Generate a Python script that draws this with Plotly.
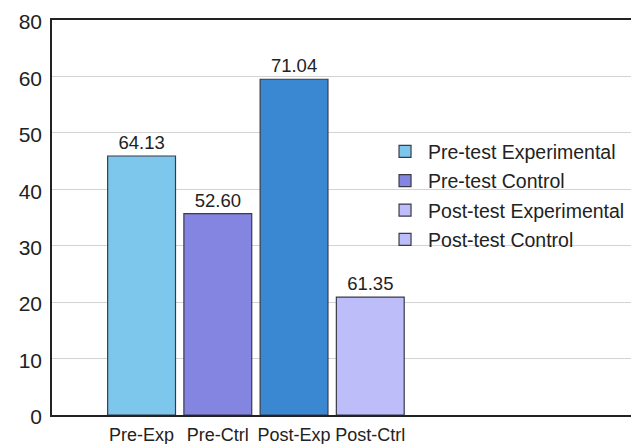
import plotly.graph_objects as go

categories = ["Pre-Exp", "Pre-Ctrl", "Post-Exp", "Post-Ctrl"]
series_names = ["Pre-test Experimental", "Pre-test Control", "Post-test Experimental", "Post-test Control"]
bar_heights = [45.9, 35.7, 59.5, 20.9]
bar_labels = ["64.13", "52.60", "71.04", "61.35"]
bar_colors = ["#7ec7ec", "#8485e0", "#3b88d2", "#bdbdf9"]
legend_colors = ["#7ec7ec", "#8485e0", "#bdbdf9", "#bdbdf9"]
tick_positions = [0, 10, 20, 30, 40, 50, 60, 70]
tick_labels = ["0", "10", "20", "30", "40", "50", "60", "80"]

FONT = "Liberation Sans, Arial, sans-serif"

fig = go.Figure()
for i, name in enumerate(series_names):
    fig.add_trace(go.Bar(
        x=[categories[i]], y=[bar_heights[i]], name=name,
        legendgroup=name,
        text=[bar_labels[i]], textposition="outside",
        textfont=dict(size=18.5, color="#222222", family=FONT),
        cliponaxis=False, width=0.89,
        marker=dict(color=bar_colors[i], line=dict(color="#3a3a48", width=1.2)),
        showlegend=False,
    ))
    # legend proxy entry
    fig.add_trace(go.Bar(
        x=[categories[i]], y=[None], name=name, legendgroup=name,
        marker=dict(color=legend_colors[i], line=dict(color="#3a3a48", width=1.2)),
        showlegend=True, hoverinfo="skip",
    ))

fig.update_layout(
    width=631, height=444,
    margin=dict(l=52, r=0, t=20, b=28.5, autoexpand=False),
    paper_bgcolor="white", plot_bgcolor="white",
    barmode="overlay",
    font=dict(family=FONT, color="#222222"),
    showlegend=True,
    legend=dict(x=0.57, y=0.716, xanchor="left", yanchor="top",
                font=dict(size=19.5, color="#222222", family=FONT),
                bgcolor="rgba(0,0,0,0)", traceorder="grouped",
                tracegroupgap=1, itemwidth=36),
    xaxis=dict(type="category", categoryorder="array", categoryarray=categories,
               range=[-1.175, 6.42], showline=True, linecolor="#222222", linewidth=1.5,
               mirror=True, showgrid=False, ticks="", ticklabelstandoff=3,
               tickangle=0, automargin=False,
               tickfont=dict(size=18, color="#222222", family=FONT)),
    yaxis=dict(range=[0, 70], tickvals=tick_positions, ticktext=tick_labels,
               showline=True, linecolor="#222222", linewidth=1.5,
               showgrid=True, gridcolor="#d3d3d3", gridwidth=1, zeroline=False,
               ticks="", ticklabelstandoff=4, ticklabelshift=2, automargin=False,
               tickfont=dict(size=21, color="#222222", family=FONT)),
)

fig.write_html("out.html")
